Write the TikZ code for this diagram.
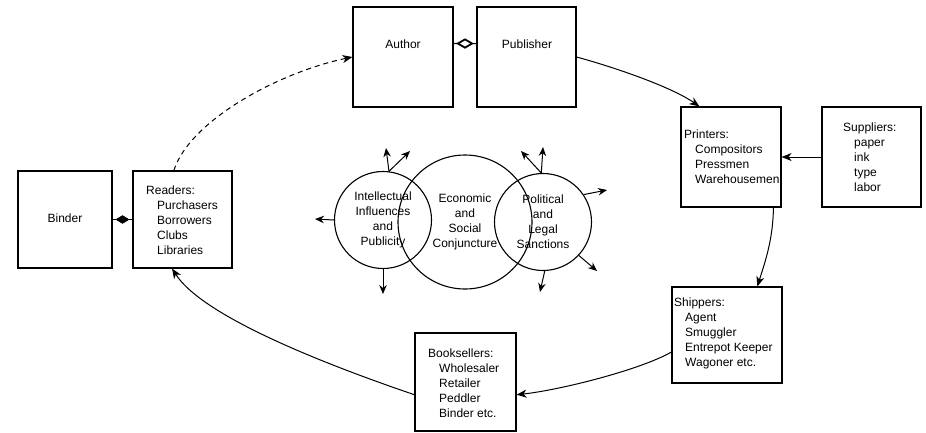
\documentclass[tikz,border=0pt]{standalone}
\usepackage{fontspec}
\setmainfont{Liberation Sans}
\usetikzlibrary{shapes.geometric,arrows.meta}
\newcommand\ind{\hspace*{11pt}}
\begin{document}
\begin{tikzpicture}[x=1pt,y=-1pt,
  every node/.style={font=\fontsize{12}{15}\selectfont},
  box/.style={draw, line width=1.1pt, inner sep=0pt},
  lbl/.style={align=left, inner sep=0pt, anchor=west},
  circ/.style={draw, circle, line width=1.1pt, inner sep=0pt, align=center},
  conn/.style={line width=1pt, -{Stealth[length=10pt,width=8pt,inset=3pt]}},
  sarr/.style={line width=1pt, -{Stealth[length=9pt,width=7.5pt,inset=3pt]}},
  bdia/.style={diamond, fill=black, draw, line width=0.6pt, minimum width=13pt, minimum height=8pt, inner sep=0pt},
  odia/.style={diamond, fill=white, draw, line width=1.8pt, minimum width=15pt, minimum height=9pt, inner sep=0pt}
]
\useasboundingbox (0,0) rectangle (926,432);

% boxes
\node[box, minimum width=94pt, minimum height=97pt] (binder) at (65,219.5) {};
\node (binderT) at (65,218) {Binder};
\node[box, minimum width=99pt, minimum height=97pt] (readers) at (182.5,219.5) {};
\node[lbl] (readersT) at (146,220) {Readers:\\\ind Purchasers\\\ind Borrowers\\\ind Clubs\\\ind Libraries};

\node[box, minimum width=100pt, minimum height=100pt] (author) at (403,57) {};
\node (authorT) at (403,44) {Author};
\node[box, minimum width=99pt, minimum height=100pt] (publisher) at (526.5,57) {};
\node (publisherT) at (527,44) {Publisher};

\node[box, minimum width=100pt, minimum height=100pt] (printers) at (731,157) {};
\node[lbl] (printersT) at (684,157) {Printers:\\\ind Compositors\\\ind Pressmen\\\ind Warehousemen};
\node[box, minimum width=99pt, minimum height=100pt] (suppliers) at (871.5,157) {};
\node[lbl] (suppliersT) at (843,157) {Suppliers:\\\ind paper\\\ind ink\\\ind type\\\ind labor};

\node[box, minimum width=110pt, minimum height=96pt] (shippers) at (727,335) {};
\node[lbl] (shippersT) at (674,333) {Shippers:\\\ind Agent\\\ind Smuggler\\\ind Entrepot Keeper\\\ind Wagoner etc.};

\node[box, minimum width=101pt, minimum height=98pt] (booksellers) at (465.5,382) {};
\node[lbl] (booksellersT) at (428,383) {Booksellers:\\\ind Wholesaler\\\ind Retailer\\\ind Peddler\\\ind Binder etc.};

% circles
\node[circ, minimum size=97pt] (lc) at (383,220) {Intellectual\\Influences\\and\\Publicity};
\node[circ, minimum size=134pt] (mc) at (465,222) {Economic\\and\\Social\\Conjuncture};
\node[circ, minimum size=97pt] (rc) at (543,222) {Political\\and\\Legal\\Sanctions};

% small connectors between boxes
\draw[line width=1.1pt] (binder.east) -- node[bdia] (bd) {} (readers.west);
\draw[line width=1.1pt] (author.15) -- node[odia] (apd) {} (publisher.165);

% main cycle
\draw[conn, dash pattern=on 5pt off 4pt] (readers.100) .. controls (190,120) and (280,72) .. (author.west);
\draw[conn] (publisher.east) .. controls (610,66) and (670,86) .. (printers.122);
\draw[conn] (suppliers.west) -- (printers.east);
\draw[conn] (printers.-50) .. controls (773,240) and (765,262) .. (shippers.58);
\draw[conn] (shippers.197) .. controls (640,370) and (560,390) .. (booksellers.-14);
\draw[conn] (booksellers.194) .. controls (345,371) and (205,320) .. (readers.258);

% radiating arrows
\coordinate (lt1) at (386,148);
\coordinate (lt2) at (410,151);
\coordinate (lw) at (315,219);
\coordinate (ls) at (383,294);
\coordinate (rt1) at (521,151);
\coordinate (rt2) at (543,147);
\coordinate (re) at (607,190);
\coordinate (rse) at (597,271);
\coordinate (rs) at (540,292);
\draw[sarr] (lc.83) -- (lt1);
\draw[sarr] (lc.83) -- (lt2);
\draw[sarr] (lc.west) -- (lw);
\draw[sarr] (lc.south) -- (ls);
\draw[sarr] (rc.92) -- (rt1);
\draw[sarr] (rc.92) -- (rt2);
\draw[sarr] (rc.34) -- (re);
\draw[sarr] (rc.-43) -- (rse);
\draw[sarr] (rc.272) -- (rs);
\end{tikzpicture}
\end{document}
